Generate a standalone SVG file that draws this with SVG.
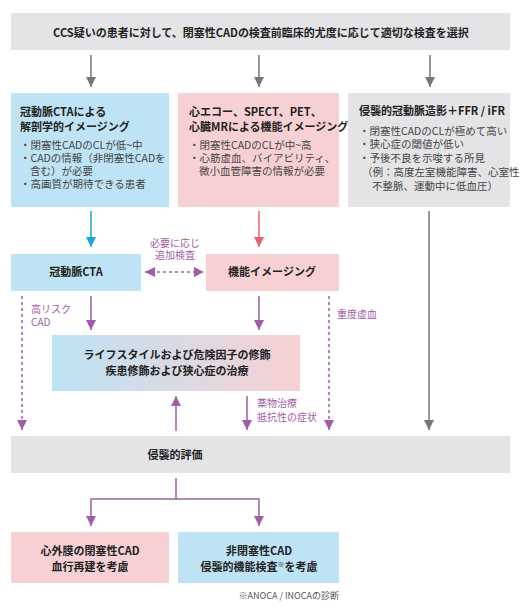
<svg xmlns="http://www.w3.org/2000/svg" width="526" height="607" viewBox="0 0 526 607">
<defs>
<style>
text{font-family:"Noto Sans CJK JP","Noto Sans",sans-serif;}
.t{font-size:11px;font-weight:bold;fill:#222;}
.b{font-size:10.5px;fill:#444;}
.p{font-size:10px;fill:#a05ca5;}
.fn{font-size:9px;fill:#555;}
.gray{fill:#e4e4e6;}
.blue{fill:#bde3f5;}
.pink{fill:#f7d0d3;}
.lg{stroke:#777;stroke-width:1.5;fill:none;}
.lp{stroke:#a05ca5;stroke-width:1.5;fill:none;}
.ld{stroke:#a05ca5;stroke-width:1.5;fill:none;stroke-dasharray:3 3;}
</style>
<linearGradient id="grad" x1="0" y1="0" x2="1" y2="0">
<stop offset="0" stop-color="#bde3f5"/>
<stop offset="1" stop-color="#f7d0d3"/>
</linearGradient>
<marker id="ag" viewBox="0 0 10 10" refX="10" refY="5" markerWidth="10" markerHeight="10" markerUnits="userSpaceOnUse" orient="auto"><path d="M0,0 L10,5 L0,10 z" fill="#777"/></marker>
<marker id="ab" viewBox="0 0 10 10" refX="10" refY="5" markerWidth="10" markerHeight="10" markerUnits="userSpaceOnUse" orient="auto"><path d="M0,0 L10,5 L0,10 z" fill="#1aa6d9"/></marker>
<marker id="ar" viewBox="0 0 10 10" refX="10" refY="5" markerWidth="10" markerHeight="10" markerUnits="userSpaceOnUse" orient="auto"><path d="M0,0 L10,5 L0,10 z" fill="#e8606f"/></marker>
<marker id="ap" viewBox="0 0 10 10" refX="10" refY="5" markerWidth="10" markerHeight="10" markerUnits="userSpaceOnUse" orient="auto-start-reverse"><path d="M0,0 L10,5 L0,10 z" fill="#a05ca5"/></marker>
</defs>
<rect width="526" height="607" fill="#fff"/>

<g id="connectors">
<line class="lg" x1="91" y1="55" x2="91" y2="87" marker-end="url(#ag)"/>
<line class="lg" x1="259" y1="55" x2="259" y2="87" marker-end="url(#ag)"/>
<line class="lg" x1="430" y1="55" x2="430" y2="87" marker-end="url(#ag)"/>
<line x1="91" y1="211" x2="91" y2="247" stroke="#1aa6d9" stroke-width="1.5" marker-end="url(#ab)"/>
<line x1="259" y1="211" x2="259" y2="247" stroke="#e8606f" stroke-width="1.5" marker-end="url(#ar)"/>
<line class="lg" x1="429" y1="211" x2="429" y2="430" marker-end="url(#ag)"/>
<line class="ld" x1="145" y1="272" x2="204" y2="272" marker-start="url(#ap)" marker-end="url(#ap)"/>
<line class="ld" x1="22" y1="296" x2="22" y2="430" marker-end="url(#ap)"/>
<line class="ld" x1="329" y1="296" x2="329" y2="430" marker-end="url(#ap)"/>
<line class="lp" x1="91" y1="296" x2="91" y2="330" marker-end="url(#ap)"/>
<line class="lp" x1="259" y1="296" x2="259" y2="330" marker-end="url(#ap)"/>
<line class="lp" x1="176" y1="431" x2="176" y2="396" marker-end="url(#ap)"/>
<line class="lp" x1="247" y1="396" x2="247" y2="430" marker-end="url(#ap)"/>
<path class="lp" d="M176,478 V499 H91 V526" marker-end="url(#ap)"/>
<path class="lp" d="M176,499 H259 V526" marker-end="url(#ap)"/>
<text class="p" x="175" y="247" text-anchor="middle">必要に応じ</text>
<text class="p" x="175" y="259" text-anchor="middle">追加検査</text>
<text class="p" x="31" y="313">高リスク</text>
<text class="p" x="31" y="326">CAD</text>
<text class="p" x="337" y="318">重度虚血</text>
<text class="p" x="257" y="407">薬物治療</text>
<text class="p" x="257" y="421">抵抗性の症状</text>
</g>

<g id="top">
<rect class="gray" x="11" y="13" width="499" height="37"/>
<text class="t" x="261" y="37" text-anchor="middle">CCS疑いの患者に対して、閉塞性CADの検査前臨床的尤度に応じて適切な検査を選択</text>
</g>

<g id="col-cta">
<rect class="blue" x="11" y="93" width="158" height="114"/>
<text class="t" x="20" y="116">冠動脈CTAによる</text>
<text class="t" x="20" y="131">解剖学的イメージング</text>
<text class="b" x="20" y="149">・閉塞性CADのCLが低~中</text>
<text class="b" x="20" y="162">・CADの情報（非閉塞性CADを</text>
<text class="b" x="20" y="175"><tspan x="30">含む）が必要</tspan></text>
<text class="b" x="20" y="188">・高画質が期待できる患者</text>
</g>

<g id="col-func">
<rect class="pink" x="178" y="93" width="161" height="114"/>
<text class="t" x="189" y="116">心エコー、SPECT、PET、</text>
<text class="t" x="189" y="131">心臓MRによる機能イメージング</text>
<text class="b" x="189" y="149">・閉塞性CADのCLが中~高</text>
<text class="b" x="189" y="162">・心筋虚血、バイアビリティ、</text>
<text class="b" x="199" y="175">微小血管障害の情報が必要</text>
</g>

<g id="col-icа">
<rect class="gray" x="348" y="93" width="162" height="114"/>
<text class="t" x="359" y="115">侵襲的冠動脈造影＋FFR / iFR</text>
<text class="b" x="359" y="135">・閉塞性CADのCLが極めて高い</text>
<text class="b" x="359" y="148">・狭心症の閾値が低い</text>
<text class="b" x="359" y="162">・予後不良を示唆する所見</text>
<text class="b" x="362" y="176">（例：高度左室機能障害、心室性</text>
<text class="b" x="372" y="190">不整脈、運動中に低血圧）</text>
</g>

<g id="cta">
<rect class="blue" x="11" y="254" width="130" height="37"/>
<text class="t" x="76" y="276" text-anchor="middle">冠動脈CTA</text>
</g>

<g id="func">
<rect class="pink" x="206" y="254" width="133" height="37"/>
<text class="t" x="272" y="276" text-anchor="middle">機能イメージング</text>
</g>

<g id="treat">
<rect x="52" y="335" width="248" height="56" fill="url(#grad)"/>
<text class="t" x="177" y="359" text-anchor="middle">ライフスタイルおよび危険因子の修飾</text>
<text class="t" x="177" y="375" text-anchor="middle">疾患修飾および狭心症の治療</text>
</g>

<g id="invasive">
<rect class="gray" x="11" y="436" width="499" height="37"/>
<text class="t" x="175" y="459" text-anchor="middle">侵襲的評価</text>
</g>

<g id="revasc">
<rect class="pink" x="11" y="532" width="158" height="51"/>
<text class="t" x="90" y="555" text-anchor="middle">心外膜の閉塞性CAD</text>
<text class="t" x="90" y="571" text-anchor="middle">血行再建を考慮</text>
</g>

<g id="nonobs">
<rect class="blue" x="178" y="532" width="161" height="51"/>
<text class="t" x="259" y="555" text-anchor="middle">非閉塞性CAD</text>
<text class="t" x="259" y="571" text-anchor="middle">侵襲的機能検査<tspan font-size="7" dy="-4" font-weight="normal">※</tspan><tspan dy="4">を考慮</tspan></text>
</g>

<text class="fn" x="339" y="599" text-anchor="end">※ANOCA / INOCAの診断</text>
</svg>
